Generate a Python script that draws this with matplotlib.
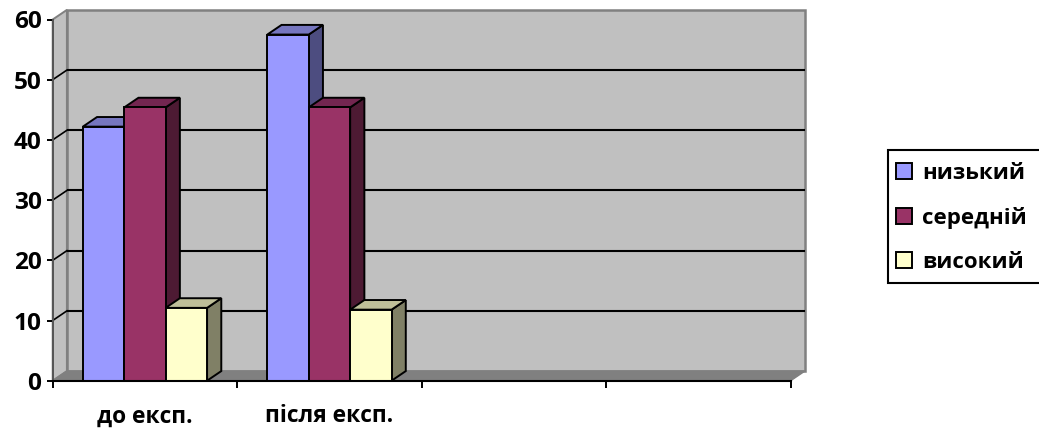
import matplotlib
matplotlib.use("Agg")
import matplotlib.pyplot as plt
from matplotlib.patches import Polygon, Rectangle, Patch

categories = ["до експ.", "після експ.", "", ""]
series_names = ["низький", "середній", "високий"]
low = [42.2, 57.5]
mid = [45.4, 45.4]
high = [12.1, 11.8]
y_ticks = [0, 10, 20, 30, 40, 50, 60]
series_values = [low, mid, high]
front_colors = ["#9999FF", "#993366", "#FFFFCC"]
top_colors = ["#7676BF", "#732650", "#BFBF99"]
side_colors = ["#4D4D80", "#4D1A33", "#808066"]

W, H = 1039, 429
FONT = "Open Sans"
plt.rcParams["font.family"] = [FONT, "DejaVu Sans"]
plt.rcParams["font.weight"] = "bold"

fig = plt.figure(figsize=(W / 100, H / 100), dpi=100)
ax = fig.add_axes([52.7 / W, (H - 380.7) / H, 738 / W, 361.2 / H])
ax.set_xlim(-0.5, 3.5)
ax.set_ylim(0, 60)
ax.patch.set_visible(False)

dx, dy = 0.077, 1.6      # oblique depth in data units
bw = 0.2245
x0, x1 = ax.get_xlim()
ymax = ax.get_ylim()[1]
edge = "#808080"
LW = 1.4


def poly(pts, fc, ec, lw, z):
    ax.add_patch(Polygon(pts, closed=True, facecolor=fc, edgecolor=ec,
                         linewidth=lw, zorder=z, clip_on=False, joinstyle="miter"))


# walls and floor
poly([(x0 + dx, dy), (x1 + dx, dy), (x1 + dx, ymax + dy), (x0 + dx, ymax + dy)], "#C0C0C0", edge, 1.8, 1)
poly([(x0, 0), (x0 + dx, dy), (x0 + dx, ymax + dy), (x0, ymax)], "#C0C0C0", edge, 1.4, 1)
poly([(x0, 0), (x1, 0), (x1 + dx, dy), (x0 + dx, dy)], "#808080", edge, 1.0, 1)

# gridlines on the wall, with connectors on the side wall
for v in y_ticks[1:-1]:
    ax.plot([x0 + dx, x1 + dx], [v + dy, v + dy], color="black", lw=1.5, zorder=2,
            clip_on=False, solid_capstyle="butt")
    ax.plot([x0, x0 + dx], [v, v + dy], color="black", lw=1.2, zorder=2, clip_on=False)

# bars
z = 3
for i in range(len(low)):
    for s, vals in enumerate(series_values):
        left = i + (s - 1.5) * bw
        right = left + bw
        v = vals[i]
        poly([(right, 0), (right + dx, dy), (right + dx, v + dy), (right, v)],
             side_colors[s], "black", LW, z)
        poly([(left, v), (right, v), (right + dx, v + dy), (left + dx, v + dy)],
             top_colors[s], "black", LW, z)
        poly([(left, 0), (right, 0), (right, v), (left, v)],
             front_colors[s], "black", LW, z + 0.1)
        z += 0.2

# axes
for name in ("top", "right"):
    ax.spines[name].set_visible(False)
ax.spines["left"].set_color("#555555")
ax.spines["left"].set_linewidth(1.4)
ax.spines["bottom"].set_color("black")
ax.spines["bottom"].set_linewidth(1.5)
ax.spines["bottom"].set_zorder(20)
ax.spines["left"].set_zorder(20)

ax.set_yticks(y_ticks)
ax.tick_params(axis="y", length=4, width=1.4, color="black", pad=4, labelsize=17.6)
ax.set_xticks(range(len(categories)))
ax.set_xticklabels(categories)
ax.set_xticks([x0 + k for k in range(5)], minor=True)
ax.tick_params(axis="x", which="major", length=0, pad=17, labelsize=16.4)
ax.tick_params(axis="x", which="minor", length=5, width=1.4, color="black")

# legend frame runs past the right edge of the picture, as in the reference
fig.add_artist(Rectangle((888 / W, (H - 282.5) / H), 200 / W, 132.5 / H,
                         transform=fig.transFigure, facecolor="white",
                         edgecolor="black", linewidth=1.5))
handles = [Patch(facecolor=c, edgecolor="black", linewidth=1.4, label=n)
           for c, n in zip(front_colors, series_names)]
leg = fig.legend(handles=handles, loc="upper left",
                 bbox_to_anchor=(896 / W, (H - 163) / H), frameon=False,
                 borderpad=0, borderaxespad=0, handlelength=0.72, handleheight=0.72,
                 handletextpad=0.45, labelspacing=1.03, fontsize=16)
leg.set_zorder(30)

fig.savefig("out.png", dpi=100)
